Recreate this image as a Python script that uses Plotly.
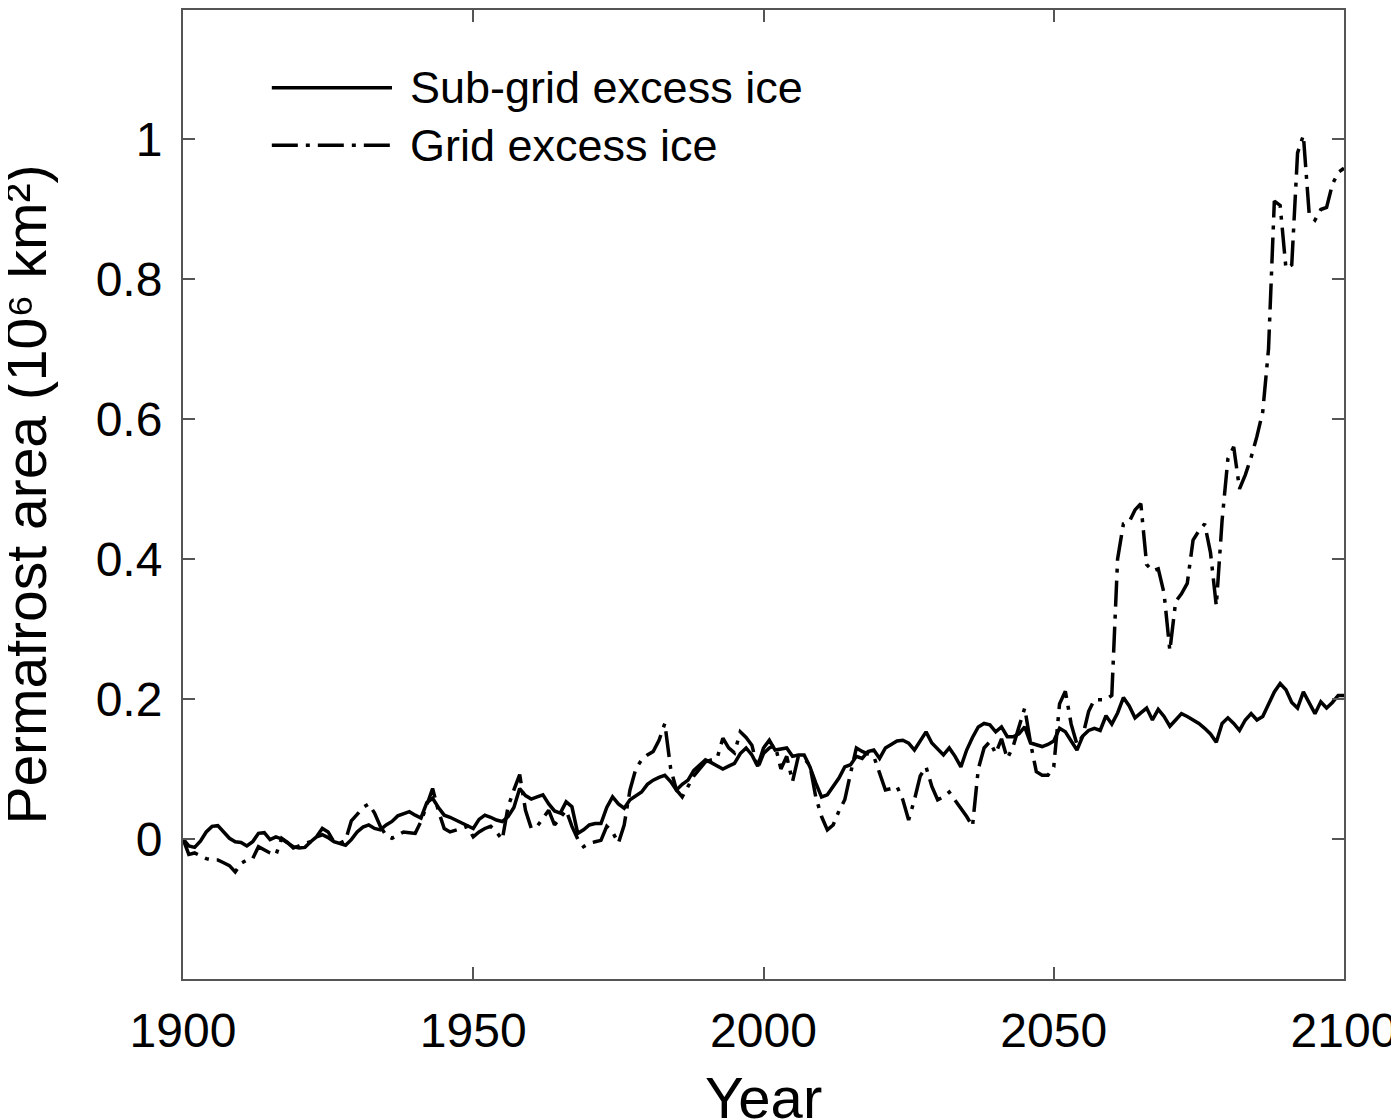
import plotly.graph_objects as go

years = list(range(1900, 2101))

# sub-grid excess ice (solid line), 10^6 km^2
sub_grid = [
    0.000, -0.010, -0.012, -0.003, 0.010, 0.018, 0.019, 0.010, 0.001, -0.004,
    -0.005, -0.010, -0.004, 0.008, 0.009, -0.001, 0.003, 0.000, -0.006, -0.011,
    -0.013, -0.012, -0.004, 0.003, 0.006, 0.002, -0.004, -0.007, -0.009, -0.001,
    0.010, 0.017, 0.020, 0.015, 0.013, 0.020, 0.025, 0.033, 0.036, 0.039,
    0.034, 0.030, 0.052, 0.058, 0.045, 0.034, 0.031, 0.027, 0.022, 0.018,
    0.015, 0.028, 0.034, 0.031, 0.027, 0.025, 0.032, 0.045, 0.072, 0.062,
    0.057, 0.060, 0.063, 0.050, 0.040, 0.037, 0.053, 0.046, 0.008, 0.013,
    0.020, 0.022, 0.022, 0.045, 0.060, 0.050, 0.044, 0.056, 0.062, 0.067,
    0.078, 0.084, 0.088, 0.091, 0.082, 0.070, 0.078, 0.084, 0.098, 0.106,
    0.113, 0.109, 0.104, 0.100, 0.104, 0.108, 0.122, 0.130, 0.120, 0.104,
    0.130, 0.141, 0.127, 0.129, 0.130, 0.118, 0.120, 0.120, 0.103, 0.080,
    0.060, 0.063, 0.075, 0.087, 0.103, 0.106, 0.118, 0.115, 0.125, 0.127,
    0.115, 0.130, 0.135, 0.140, 0.141, 0.137, 0.127, 0.140, 0.153, 0.137,
    0.128, 0.120, 0.130, 0.118, 0.103, 0.127, 0.145, 0.160, 0.165, 0.163,
    0.153, 0.160, 0.146, 0.146, 0.150, 0.160, 0.137, 0.134, 0.132, 0.135,
    0.140, 0.158, 0.153, 0.140, 0.127, 0.147, 0.155, 0.158, 0.155, 0.176,
    0.164, 0.180, 0.202, 0.190, 0.173, 0.180, 0.187, 0.170, 0.185, 0.175,
    0.161, 0.170, 0.179, 0.175, 0.170, 0.165, 0.158, 0.150, 0.138, 0.165,
    0.173, 0.165, 0.155, 0.170, 0.179, 0.170, 0.175, 0.193, 0.210, 0.222,
    0.213, 0.195, 0.187, 0.210, 0.195, 0.179, 0.196, 0.187, 0.195, 0.205,
    0.205,
]

# grid excess ice (dash-dot line), 10^6 km^2
grid = [
    0.000, -0.022, -0.020, -0.024, -0.028, -0.030, -0.030, -0.034, -0.038, -0.047,
    -0.035, -0.030, -0.028, -0.011, -0.016, -0.020, -0.023, 0.001, -0.005, -0.013,
    -0.010, -0.006, -0.004, 0.003, 0.015, 0.010, -0.004, -0.006, -0.002, 0.026,
    0.035, 0.045, 0.050, 0.037, 0.018, 0.005, 0.001, 0.005, 0.010, 0.009,
    0.008, 0.025, 0.050, 0.072, 0.040, 0.015, 0.010, 0.012, 0.015, 0.018,
    0.003, 0.010, 0.015, 0.018, 0.010, -0.001, 0.046, 0.070, 0.092, 0.041,
    0.015, 0.018, 0.030, 0.041, 0.020, 0.030, 0.041, 0.018, 0.000, -0.011,
    -0.006, -0.004, -0.002, 0.018, 0.010, -0.006, 0.020, 0.070, 0.100, 0.113,
    0.120, 0.125, 0.141, 0.165, 0.101, 0.070, 0.060, 0.075, 0.090, 0.100,
    0.110, 0.113, 0.115, 0.144, 0.130, 0.123, 0.153, 0.145, 0.134, 0.101,
    0.122, 0.130, 0.134, 0.100, 0.118, 0.082, 0.118, 0.115, 0.105, 0.060,
    0.032, 0.013, 0.020, 0.040, 0.056, 0.094, 0.130, 0.125, 0.122, 0.118,
    0.094, 0.070, 0.072, 0.075, 0.056, 0.027, 0.056, 0.090, 0.103, 0.075,
    0.056, 0.060, 0.067, 0.056, 0.045, 0.032, 0.018, 0.100, 0.130, 0.139,
    0.122, 0.143, 0.115, 0.132, 0.160, 0.187, 0.137, 0.096, 0.091, 0.091,
    0.103, 0.193, 0.211, 0.164, 0.135, 0.147, 0.182, 0.199, 0.199, 0.199,
    0.205, 0.400, 0.450, 0.453, 0.470, 0.479, 0.392, 0.383, 0.386, 0.351,
    0.269, 0.339, 0.350, 0.365, 0.427, 0.440, 0.450, 0.409, 0.333, 0.455,
    0.543, 0.560, 0.500, 0.520, 0.545, 0.575, 0.610, 0.700, 0.911, 0.905,
    0.815, 0.820, 0.980, 1.005, 0.893, 0.884, 0.899, 0.902, 0.935, 0.952,
    0.958,
]

series_names = ['Sub-grid excess ice', 'Grid excess ice']
x_ticks = [1900, 1950, 2000, 2050, 2100]
y_ticks = [0, 0.2, 0.4, 0.6, 0.8, 1]
y_ticklabels = ['0', '0.2', '0.4', '0.6', '0.8', '1']
x_title = 'Year'
y_title = 'Permafrost area (10⁶ km²)'

FONT = 'Liberation Sans, Arial, Helvetica, sans-serif'
DASHDOT = '26px,8px,4px,8px'

fig = go.Figure()
fig.add_trace(go.Scatter(x=years, y=sub_grid, mode='lines', name=series_names[0],
                         line=dict(color='black', width=3.5)))
fig.add_trace(go.Scatter(x=years, y=grid, mode='lines', name=series_names[1],
                         line=dict(color='black', width=3.5, dash=DASHDOT)))

# legend drawn by hand so the sample lines are as long as in the original
for i, (name, dash) in enumerate(zip(series_names, ['solid', DASHDOT])):
    yv = 1.073 - i * 0.082
    fig.add_shape(type='line', xref='x', yref='y', x0=1915.3, x1=1936.0, y0=yv, y1=yv,
                  line=dict(color='black', width=3.5, dash=dash))
    fig.add_annotation(x=1938.8, y=yv, xref='x', yref='y', text=name, showarrow=False,
                       xanchor='left', yanchor='middle',
                       font=dict(family=FONT, size=45, color='black'))

# axis titles as annotations so they can sit right at the figure edges
fig.add_annotation(x=-0.136, y=0.5, xref='paper', yref='paper', text=y_title,
                   showarrow=False, textangle=-90, xanchor='center', yanchor='middle',
                   font=dict(family=FONT, size=57, color='black'))
fig.add_annotation(x=0.5, y=-0.0867, xref='paper', yref='paper', text=x_title,
                   showarrow=False, xanchor='center', yanchor='top',
                   font=dict(family=FONT, size=58, color='black'))

axis_common = dict(
    showgrid=False, zeroline=False, showline=True, linecolor='#555555', linewidth=2,
    mirror='ticks', ticks='inside', ticklen=12, tickwidth=2, tickcolor='#555555',
    tickfont=dict(family=FONT, size=48, color='black'), automargin=False,
)

# page body has an 8px margin, so the figure is sized to fit the window
fig.update_layout(
    width=1391, height=1112,
    margin=dict(l=175, r=55, t=2, b=141),
    plot_bgcolor='white', paper_bgcolor='white',
    showlegend=False,
    xaxis=dict(range=[1900, 2100], tickvals=x_ticks, ticklabelstandoff=8, **axis_common),
    yaxis=dict(range=[-0.2, 1.184], tickvals=y_ticks, ticktext=y_ticklabels,
               ticklabelstandoff=9, **axis_common),
)

fig.write_html('out.html')
